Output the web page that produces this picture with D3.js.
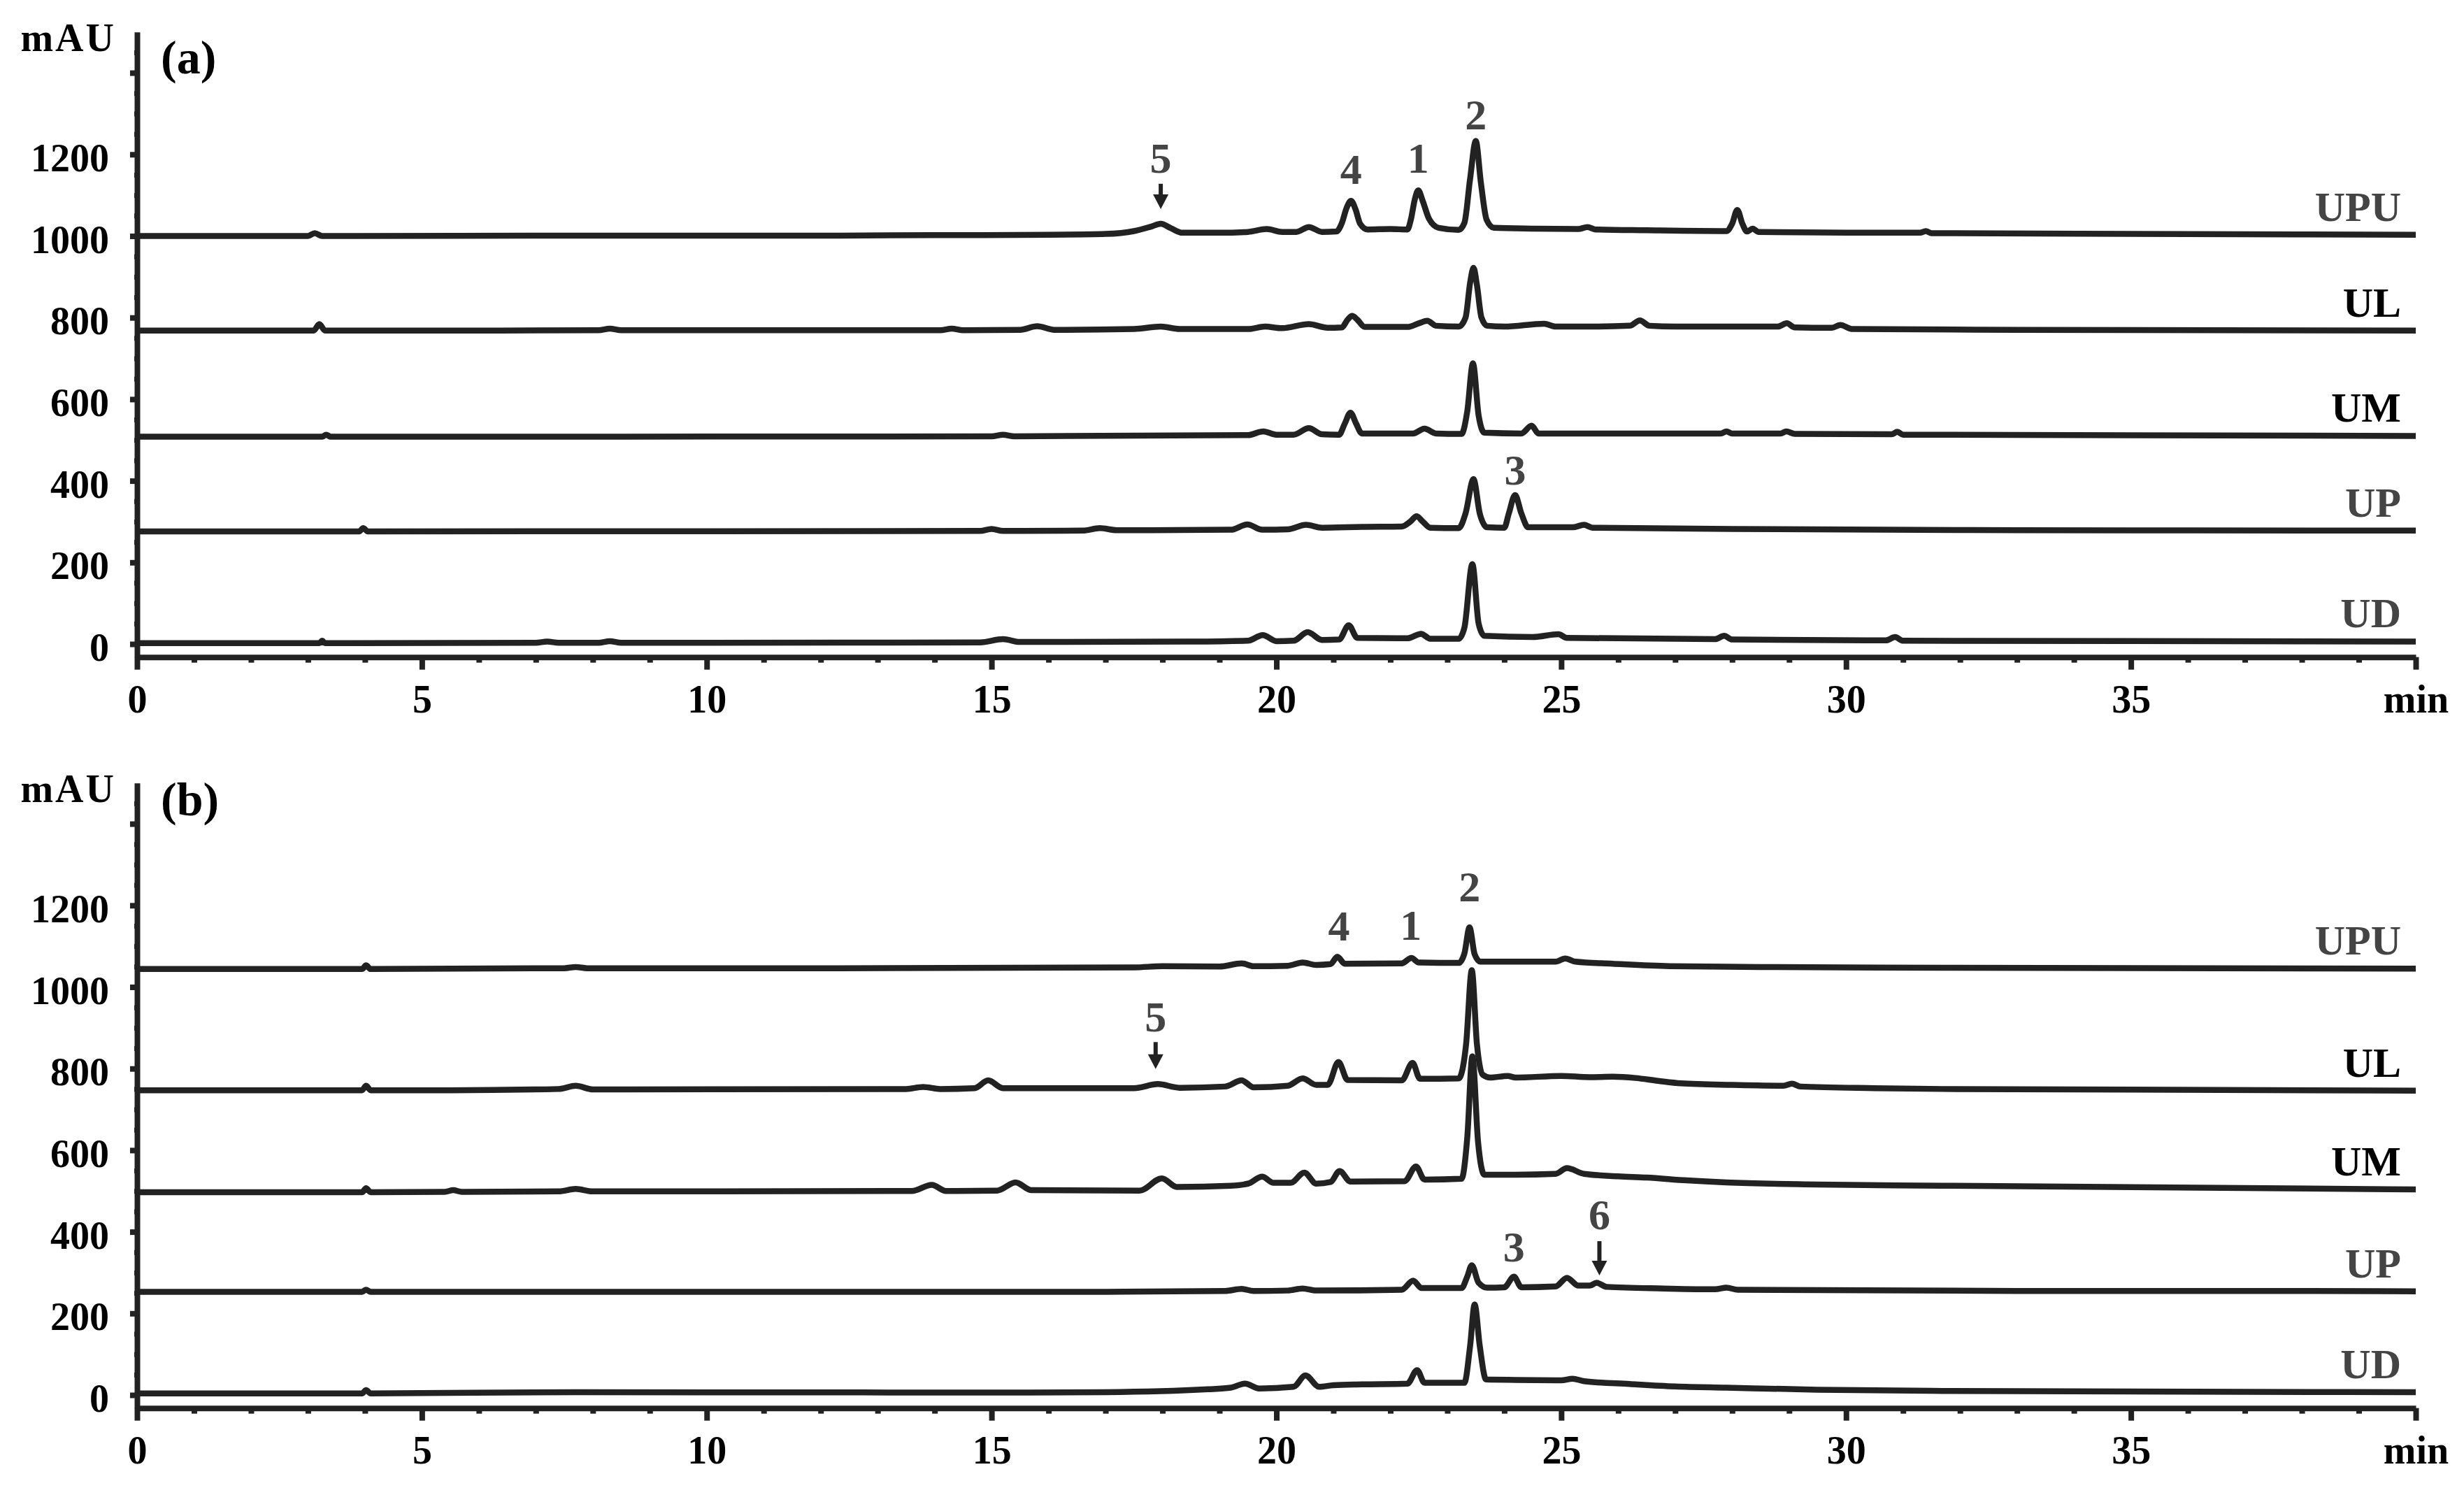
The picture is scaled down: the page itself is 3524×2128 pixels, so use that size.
<!DOCTYPE html>
<html>
<head>
<meta charset="utf-8">
<script src="https://cdn.jsdelivr.net/npm/d3@7"></script>
<style>
body { margin: 0; background: #fff; }
text { font-family: "Liberation Serif", "Times New Roman", serif; font-weight: bold; }
</style>
</head>
<body>
<svg id="chart" width="3524" height="2128"></svg>
<script>
// sample names, top to bottom
var sampleNames = ['UPU', 'UL', 'UM', 'UP', 'UD'];

// x ticks (min) and y ticks (mAU)
var xMajorTicks = [0, 5, 10, 15, 20, 25, 30, 35, 40];
var yMajorTicks = [0, 200, 400, 600, 800, 1000, 1200, 1400];
var yLabelMax = 1200;

// ---- panel (a): [time min, mAU] ----
var upuA = [[0,1000],[3.0,1000],[3.12,1007],[3.25,1000],[8,1001],[12,1001],[14,1002],[16,1003],[17.0,1005],[17.5,1012],
	[17.8,1023],[17.97,1030],[18.15,1019],[18.35,1008],[19.0,1008],[19.5,1010],[19.83,1017],[20.1,1010],[20.35,1010],
	[20.57,1022],[20.8,1010],[21.05,1011],[21.15,1032],[21.23,1068],[21.31,1086],[21.39,1065],[21.47,1030],[21.6,1016],
	[22.0,1017],[22.3,1016],[22.36,1040],[22.43,1090],[22.49,1112],[22.57,1085],[22.68,1042],[22.85,1020],[23.2,1015],
	[23.3,1032],[23.4,1140],[23.5,1233],[23.59,1130],[23.69,1040],[23.82,1020],[24.5,1018],[25.3,1017],[25.46,1022],
	[25.6,1016],[26.5,1014],[27.9,1012],[28.0,1030],[28.09,1064],[28.18,1030],[28.26,1011],[28.36,1018],[28.46,1010],
	[30.0,1008],[31.3,1008],[31.4,1012],[31.5,1007],[35,1005],[40,1003]];
var ulA = [[0,768],[3.1,768],[3.2,784],[3.3,768],[8.1,769],[8.3,773],[8.5,769],[14.1,769],[14.3,773],[14.5,769],
	[15.5,770],[15.8,779],[16.1,770],[17.5,772],[17.97,778],[18.3,772],[19.5,772],[19.8,778],[20.1,774],[20.57,784],
	[20.9,775],[21.15,776],[21.25,795],[21.33,804],[21.42,795],[21.55,777],[22.3,777],[22.5,786],[22.65,792],[22.8,780],
	[23.2,778],[23.32,800],[23.4,885],[23.46,922],[23.52,880],[23.6,800],[23.7,780],[24.0,778],[24.7,785],[24.9,778],
	[25.5,778],[26.2,780],[26.38,793],[26.55,780],[27.0,778],[28.8,778],[28.96,786],[29.1,776],[29.75,775],[29.9,782],
	[30.1,772],[33,770],[40,768]];
var umA = [[0,508],[3.25,508],[3.32,513],[3.4,508],[15.0,509],[15.2,513],[15.4,509],[19.5,512],[19.77,521],[20.0,513],
	[20.3,513],[20.57,529],[20.8,514],[21.1,513],[21.2,540],[21.3,567],[21.4,540],[21.5,516],[22.4,516],[22.6,528],
	[22.8,516],[23.25,515],[23.35,570],[23.45,688],[23.55,560],[23.65,518],[24.3,516],[24.48,535],[24.6,516],[27.8,516],
	[27.9,521],[28.0,516],[28.85,516],[28.95,521],[29.1,515],[30.8,514],[30.9,520],[31.0,513],[40,510]];
var upA = [[0,276],[3.9,276],[3.97,284],[4.05,276],[14.8,277],[15.0,282],[15.2,277],[16.6,278],[16.9,284],[17.2,279],
	[19.2,280],[19.49,293],[19.75,280],[20.2,281],[20.52,292],[20.8,285],[21.5,287],[22.2,288],[22.35,300],[22.46,313],
	[22.57,300],[22.7,285],[23.2,284],[23.32,320],[23.46,404],[23.57,320],[23.7,286],[24.0,285],[24.08,320],[24.19,365],
	[24.3,320],[24.42,286],[25.2,286],[25.4,292],[25.55,285],[28,282],[33,279],[40,278]];
var udA = [[0,2],[3.2,2],[3.25,8],[3.3,2],[7.0,3],[7.2,6],[7.4,3],[8.1,3],[8.3,7],[8.5,3],[14.8,4],[15.2,12],[15.5,5],
	[18.5,6],[19.5,8],[19.76,22],[20.0,7],[20.3,8],[20.55,29],[20.8,10],[21.1,11],[21.27,46],[21.42,15],[22.3,14],
	[22.54,25],[22.7,13],[23.2,13],[23.3,40],[23.44,196],[23.55,50],[23.65,20],[24.5,17],[24.95,24],[25.1,15],[27.7,12],
	[27.86,20],[28.0,11],[30.7,9],[30.86,17],[31.0,8],[40,6]];

// ---- panel (b) ----
var upuB = [[0,1044],[3.95,1044],[4.02,1053],[4.1,1044],[7.5,1046],[7.7,1049],[7.9,1046],[12,1046],[17.5,1048],[18.0,1051],
	[19.0,1050],[19.39,1058],[19.6,1051],[20.2,1052],[20.46,1060],[20.7,1054],[20.95,1056],[21.07,1074],[21.2,1057],
	[22.2,1058],[22.37,1071],[22.5,1060],[23.2,1059],[23.3,1082],[23.39,1146],[23.48,1080],[23.58,1062],[24.9,1062],
	[25.07,1070],[25.25,1062],[25.9,1057],[26.9,1051],[28.5,1049],[31.7,1047],[40,1045]];
var ulB = [[0,747],[3.95,747],[4.02,758],[4.1,747],[5.5,747],[7.4,750],[7.7,758],[8.0,749],[13.5,750],[13.8,755],
	[14.1,750],[14.7,752],[14.94,771],[15.2,752],[17.5,752],[17.92,762],[18.3,753],[19.1,756],[19.39,771],[19.6,754],
	[20.2,758],[20.46,776],[20.7,760],[20.9,760],[21.09,816],[21.25,772],[22.2,771],[22.39,814],[22.52,775],[23.2,776],
	[23.33,860],[23.43,1041],[23.52,860],[23.62,785],[23.75,778],[24.06,782],[24.2,778],[25.0,782],[25.5,779],[25.9,780],
	[26.3,777],[26.7,770],[27.1,764],[28.0,760],[28.9,758],[29.05,763],[29.2,756],[30.5,752],[31.7,750],[40,746]];
var umB = [[0,497],[3.95,497],[4.02,507],[4.1,497],[5.4,498],[5.55,502],[5.7,498],[7.4,499],[7.7,505],[8.0,499],
	[13.6,500],[13.95,515],[14.2,500],[15.1,501],[15.42,521],[15.7,502],[17.6,501],[17.99,531],[18.25,510],[19.2,513],
	[19.5,518],[19.75,535],[19.95,520],[20.25,520],[20.49,545],[20.7,518],[20.95,522],[21.11,549],[21.3,523],[22.25,524],
	[22.45,560],[22.6,528],[23.25,530],[23.35,630],[23.44,830],[23.54,620],[23.65,540],[24.2,540],[24.9,542],[25.1,556],
	[25.4,542],[26.0,536],[26.5,533],[27.2,526],[27.9,521],[29.5,516],[31.7,513],[40,504]];
var upB = [[0,253],[3.95,253],[4.02,258],[4.1,253],[17,253],[19.1,255],[19.39,260],[19.6,255],[20.2,256],[20.46,261],
	[20.7,256],[22.2,258],[22.4,280],[22.55,262],[23.25,262],[23.35,290],[23.43,318],[23.55,275],[23.7,263],[24.0,264],
	[24.17,290],[24.3,264],[24.9,266],[25.1,287],[25.3,268],[25.5,268],[25.62,275],[25.8,265],[26.8,261],[27.7,259],
	[27.9,263],[28.1,258],[33,255],[37.8,255],[40,254]];
var udB = [[0,4],[3.95,4],[4.02,12],[4.1,4],[7.7,7],[15,6],[17,7],[18.8,14],[19.2,18],[19.45,28],[19.7,16],[20.3,20],
	[20.51,48],[20.75,20],[21.0,24],[21.5,26],[22.3,28],[22.47,61],[22.6,30],[23.3,30],[23.4,120],[23.48,222],[23.57,120],
	[23.68,38],[24.2,37],[25.0,36],[25.2,40],[25.4,34],[26.2,27],[27.0,21],[27.9,18],[29.5,13],[31.7,10],[40,7]];

// peak labels: [text, time, mAU at text baseline]
var peakLabelsA = [['5', 17.97, 1155], ['4', 21.31, 1128], ['1', 22.49, 1155], ['2', 23.5, 1261], ['3', 24.19, 391]];
var peakLabelsB = [['4', 21.1, 1114], ['1', 22.36, 1116], ['2', 23.39, 1210], ['5', 17.88, 891], ['3', 24.17, 327], ['6', 25.67, 406]];
// arrows: [time, mAU at stem top, mAU at tip]
var arrowsA = [[17.97, 1128, 1066]];
var arrowsB = [[17.88, 865, 799], [25.67, 377, 293]];


var svg = d3.select('#chart');
svg.append('rect').attr('width', 3524).attr('height', 2128).attr('fill', '#fff');

var ink = '#222';
var nameColor = {UPU: '#444', UL: '#000', UM: '#000', UP: '#444', UD: '#444'};
var pxPerMAU = 0.5835;

var x = d3.scaleLinear().domain([0, 40]).range([196, 3455]);

var panels = [
	{tag: '(a)', zero: 921, tagY: 105, traces: [upuA, ulA, umA, upA, udA], peaks: peakLabelsA, arrows: arrowsA},
	{tag: '(b)', zero: 1995, tagY: 1166, traces: [upuB, ulB, umB, upB, udB], peaks: peakLabelsB, arrows: arrowsB}
];

panels.forEach(function(p) {
	var y = d3.scaleLinear().domain([-32, 1500])
		.range([p.zero + 32 * pxPerMAU, p.zero - 1500 * pxPerMAU]);
	var g = svg.append('g');

	// minor ticks first so the axis lines sit on top
	var xMinor = d3.range(0, 41).filter(function(d) { return d % 5 !== 0; });
	g.append('g')
		.attr('transform', 'translate(0,' + y(-32) + ')')
		.call(d3.axisBottom(x).tickValues(xMinor).tickSize(8).tickFormat(''))
		.call(function(s) { s.select('.domain').remove(); s.selectAll('line').attr('stroke', ink).attr('stroke-width', 8); });

	var yMinor = d3.range(50, 1500, 50).filter(function(d) { return d % 200 !== 0; });
	g.append('g')
		.attr('transform', 'translate(' + x(0) + ',0)')
		.call(d3.axisLeft(y).tickValues(yMinor).tickSize(4).tickFormat(''))
		.call(function(s) { s.select('.domain').remove(); s.selectAll('line').attr('stroke', ink).attr('stroke-width', 7); });

	var xAxis = g.append('g')
		.attr('transform', 'translate(0,' + y(-32) + ')')
		.call(d3.axisBottom(x).tickValues(xMajorTicks).tickSize(18).tickSizeOuter(0)
			.tickFormat(function(d) { return d === 40 ? 'min' : d; }));
	xAxis.select('.domain').attr('stroke', ink).attr('stroke-width', 8);
	xAxis.selectAll('line').attr('stroke', ink).attr('stroke-width', 8);
	xAxis.selectAll('text').attr('y', 79).attr('dy', null).attr('fill', '#000')
		.attr('font-size', 56).attr('font-family', null);

	var yAxis = g.append('g')
		.attr('transform', 'translate(' + x(0) + ',0)')
		.call(d3.axisLeft(y).tickValues(yMajorTicks).tickSize(10).tickPadding(30).tickSizeOuter(0)
			.tickFormat(function(d) { return d <= yLabelMax ? d : ''; }));
	yAxis.select('.domain').attr('stroke', ink).attr('stroke-width', 8);
	yAxis.selectAll('line').attr('stroke', ink).attr('stroke-width', 8);
	yAxis.selectAll('text').attr('dy', '0.42em').attr('fill', '#000')
		.attr('font-size', 56).attr('font-family', null);

	g.append('text').text('mAU')
		.attr('x', 166).attr('y', y(1500) + 27)
		.attr('text-anchor', 'end').attr('font-size', 56).attr('letter-spacing', 3);
	g.append('text').text(p.tag)
		.attr('x', 230).attr('y', p.tagY).attr('font-size', 68);

	var line = d3.line()
		.x(function(d) { return x(d[0]); })
		.y(function(d) { return y(d[1]); })
		.curve(d3.curveMonotoneX);

	p.traces.forEach(function(tr, i) {
		g.append('path').datum(tr)
			.attr('d', line)
			.attr('fill', 'none')
			.attr('stroke', ink)
			.attr('stroke-width', 8.5)
			.attr('stroke-linejoin', 'round');
		var last = tr[tr.length - 1];
		g.append('text').text(sampleNames[i])
			.attr('x', 3434).attr('y', y(last[1]) - 20)
			.attr('text-anchor', 'end')
			.attr('font-size', 60)
			.attr('fill', nameColor[sampleNames[i]]);
	});

	p.peaks.forEach(function(pk) {
		g.append('text').text(pk[0])
			.attr('x', x(pk[1])).attr('y', y(pk[2]))
			.attr('text-anchor', 'middle')
			.attr('font-size', 62)
			.attr('fill', '#444');
	});

	p.arrows.forEach(function(a) {
		var ax = x(a[0]), top = y(a[1]), tip = y(a[2]);
		g.append('line')
			.attr('x1', ax).attr('x2', ax)
			.attr('y1', top).attr('y2', tip - 20)
			.attr('stroke', ink).attr('stroke-width', 6);
		g.append('path')
			.attr('d', 'M' + (ax - 11) + ',' + (tip - 21) + 'L' + (ax + 11) + ',' + (tip - 21) + 'L' + ax + ',' + tip + 'Z')
			.attr('fill', ink);
	});
});
</script>
</body>
</html>
